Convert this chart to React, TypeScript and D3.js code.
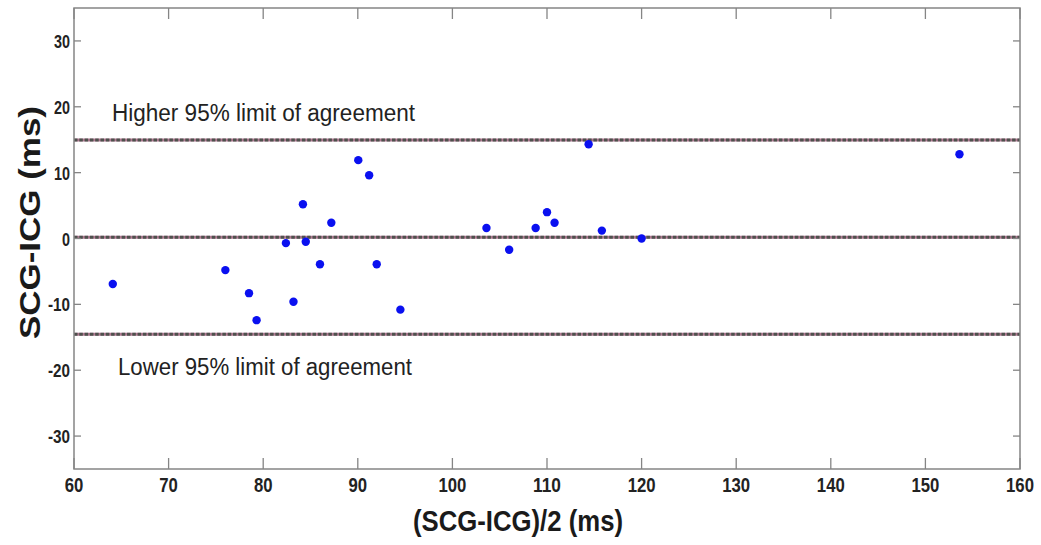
import React from "react";
import * as d3 from "d3";

const W = 1041;
const H = 545;

// Data: mean of the two methods (ms) and their difference (ms)
const meanValues = [64.1, 76.0, 78.5, 79.3, 82.4, 83.2, 84.2, 84.5, 86.0, 87.2, 90.05, 91.2, 92.0, 94.5, 103.6, 106.0, 108.8, 110.0, 110.8, 114.4, 115.8, 120.0, 153.6];
const diffValues = [-6.9, -4.8, -8.3, -12.4, -0.7, -9.6, 5.2, -0.5, -3.9, 2.4, 11.9, 9.6, -3.9, -10.8, 1.6, -1.7, 1.6, 4.0, 2.4, 14.3, 1.2, 0.0, 12.8];

const xTicks = [60, 70, 80, 90, 100, 110, 120, 130, 140, 150, 160];
const yTicks = [-30, -20, -10, 0, 10, 20, 30];

const upperLimit = 14.95;
const meanDiff = 0.2;
const lowerLimit = -14.55;

const xTitle = "(SCG-ICG)/2 (ms)";
const yTitle = "SCG-ICG  (ms)";
const upperLabel = "Higher 95% limit of agreement";
const lowerLabel = "Lower 95% limit of agreement";

const margin = { left: 74, right: 1020, top: 8, bottom: 469 };

export default function App() {
  const x = d3.scaleLinear().domain([60, 160]).range([margin.left, margin.right]);
  const y = d3.scaleLinear().domain([-35, 35]).range([margin.bottom, margin.top]);
  const axisColor = "#858585";
  const font = "'Liberation Sans', Arial, sans-serif";

  const refLine = (v: number, key: string) => (
    <g key={key}>
      <line x1={x(60)} x2={x(160)} y1={y(v)} y2={y(v)} stroke="#b07a92" strokeWidth={3} />
      <line x1={x(60)} x2={x(160)} y1={y(v)} y2={y(v)} stroke="#3e4a42" strokeWidth={3} strokeDasharray="3.5 1.8" opacity={0.85} />
    </g>
  );

  const labelWidth = (s: string, digitW: number, minusW: number) =>
    s.split("").reduce((a, c) => a + (c === "-" ? minusW : digitW), 0);

  return (
    <svg width={W} height={H} style={{ position: "absolute", left: 0, top: 0, background: "#fff" }} fontFamily={font}>
      <rect x={0} y={0} width={W} height={H} fill="#fff" />
      {/* reference lines */}
      {refLine(upperLimit, "u")}
      {refLine(meanDiff, "m")}
      {refLine(lowerLimit, "l")}

      {/* points */}
      {meanValues.map((m, i) => (
        <circle key={i} cx={x(m)} cy={y(diffValues[i])} r={4.2} fill="#0a10f0" />
      ))}

      {/* box */}
      <rect x={margin.left} y={margin.top} width={margin.right - margin.left} height={margin.bottom - margin.top} fill="none" stroke={axisColor} strokeWidth={1.5} />

      {/* x ticks */}
      {xTicks.map((t) => (
        <g key={"xt" + t}>
          <line x1={x(t)} x2={x(t)} y1={margin.bottom} y2={margin.bottom - 11} stroke={axisColor} strokeWidth={1.3} />
          <line x1={x(t)} x2={x(t)} y1={margin.top} y2={margin.top + 11} stroke={axisColor} strokeWidth={1.3} />
          <text x={x(t)} y={492} textAnchor="middle" fontSize={20} fontWeight="bold" fill="#222"
            textLength={labelWidth(String(t), 9.3, 6)} lengthAdjust="spacingAndGlyphs">{t}</text>
        </g>
      ))}

      {/* y ticks */}
      {yTicks.map((t) => {
        const s = String(t);
        const w = labelWidth(s, 8, 6);
        return (
          <g key={"yt" + t}>
            <line x1={margin.left} x2={margin.left + 7} y1={y(t)} y2={y(t)} stroke={axisColor} strokeWidth={1.3} />
            <line x1={margin.right} x2={margin.right - 7} y1={y(t)} y2={y(t)} stroke={axisColor} strokeWidth={1.3} />
            <text x={70 - w} y={y(t) + 7} fontSize={18} fontWeight="bold" fill="#222"
              textLength={w} lengthAdjust="spacingAndGlyphs">{s}</text>
          </g>
        );
      })}

      {/* annotations */}
      <text x={112} y={121} fontSize={23} fill="#222" textLength={303} lengthAdjust="spacingAndGlyphs">{upperLabel}</text>
      <text x={118} y={375} fontSize={23} fill="#222" textLength={294} lengthAdjust="spacingAndGlyphs">{lowerLabel}</text>

      {/* axis titles */}
      <text x={413} y={531} fontSize={29} fontWeight="bold" fill="#1a1a1a" textLength={210} lengthAdjust="spacingAndGlyphs">{xTitle}</text>
      <text transform={`translate(40, ${223}) rotate(-90)`} x={-116} y={0} fontSize={29} fontWeight="bold" fill="#1a1a1a"
        textLength={233} lengthAdjust="spacingAndGlyphs">{yTitle}</text>
    </svg>
  );
}
